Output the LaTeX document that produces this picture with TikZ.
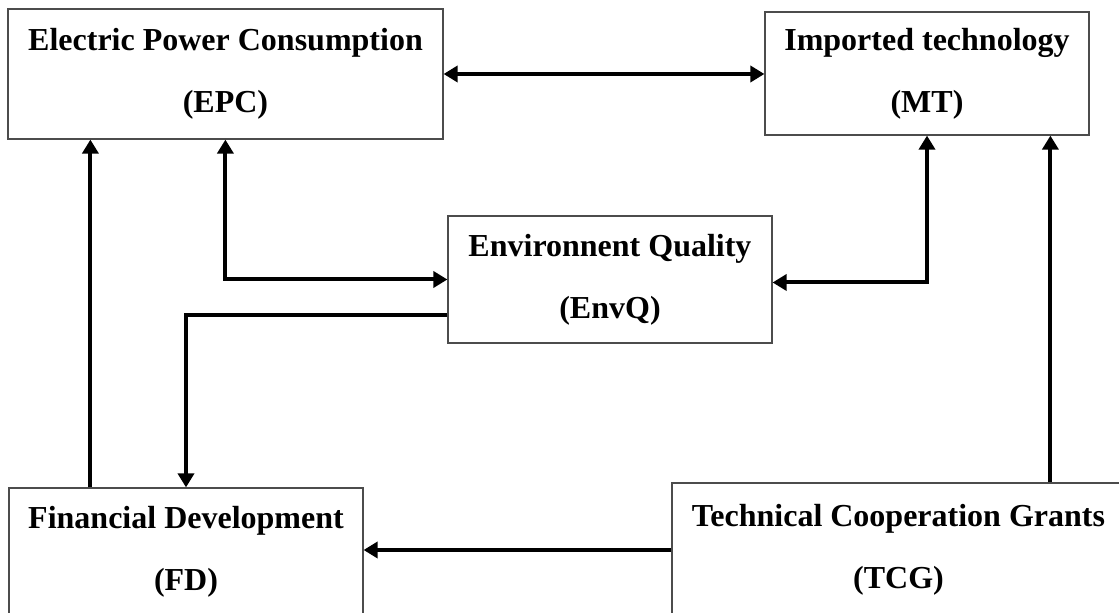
\documentclass[tikz,border=0pt]{standalone}
\usepackage{fontspec}
\setmainfont{Liberation Serif}
\usetikzlibrary{arrows.meta}
\begin{document}
\begin{tikzpicture}[x=0.5pt, y=-0.5pt,
    box/.style={rectangle, draw=black!70, line width=0.6pt, align=center, inner sep=0pt,
                font=\bfseries\fontsize{16pt}{31pt}\selectfont},
    link/.style={line width=2pt, -{Triangle[length=7pt,width=8pt]}},
    twoway/.style={line width=2pt, {Triangle[length=7pt,width=8pt]}-{Triangle[length=7pt,width=8pt]}}
]
\useasboundingbox (0,0) rectangle (1119,613);
\node (epc) [box, minimum width=217.5pt, minimum height=65pt] at (225.5, 74) {Electric Power Consumption\\(EPC)};
\node (mt) [box, minimum width=162pt, minimum height=61.5pt] at (927, 73.5) {Imported technology\\(MT)};
\node (envq) [box, minimum width=162pt, minimum height=63.5pt] at (610, 279.5) {Environnent Quality\\(EnvQ)};
\node (fd) [box, minimum width=177pt, minimum height=66pt] at (186, 554) {Financial Development\\(FD)\rule[-6pt]{0pt}{0pt}};
\node (tcg) [box, minimum width=226.5pt, minimum height=68.5pt] at (898.5, 551.5) {Technical Cooperation Grants\\(TCG)\rule[-5pt]{0pt}{0pt}};

\draw [twoway] (epc.east) -- (epc.east -| mt.west);
\draw [link] ([xshift=41pt]fd.north west) -- ([xshift=41pt]fd.north west |- epc.south);
\draw [twoway] (envq.west) -| ([xshift=109pt]epc.south west);
\draw [twoway] ([yshift=-1.5pt]envq.east) -| (mt.south);
\draw [link] ([yshift=-18pt]envq.west) -| (fd.north);
\draw [link] ([yshift=0.75pt]tcg.west) -- ([yshift=0.75pt]tcg.west -| fd.east);
\draw [link] ([xshift=189.5pt]tcg.north west) -- ([xshift=189.5pt]tcg.north west |- mt.south);
\end{tikzpicture}
\end{document}
